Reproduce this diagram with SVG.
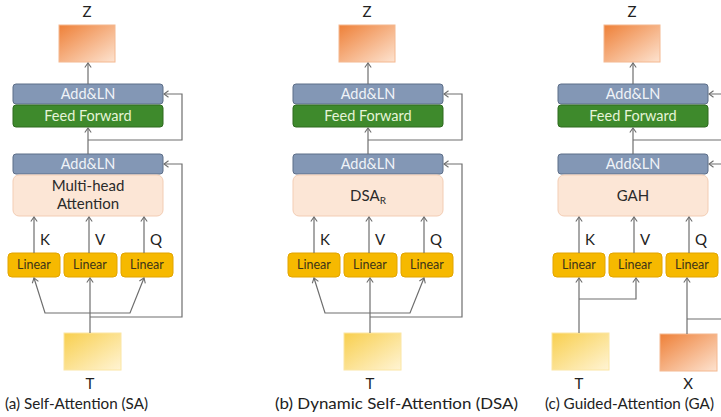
<svg xmlns="http://www.w3.org/2000/svg" width="721" height="417" viewBox="0 0 721 417">
  <defs>
    <linearGradient id="gOrange" x1="0" y1="0" x2="1" y2="1">
      <stop offset="0" stop-color="#ee8038"/>
      <stop offset="1" stop-color="#fde3d0"/>
    </linearGradient>
    <linearGradient id="gYellow" x1="0" y1="0" x2="1" y2="1">
      <stop offset="0" stop-color="#f8cf4e"/>
      <stop offset="1" stop-color="#fff4d4"/>
    </linearGradient>
    <marker id="arr" markerWidth="10" markerHeight="10" refX="0" refY="0" viewBox="-6 -5 8 10" orient="auto" markerUnits="userSpaceOnUse">
      <path d="M-4.5,-3.2 L0,0 L-4.5,3.2" fill="none" stroke="#6e6e6e" stroke-width="1.1"/>
    </marker>
    <style>
      text { font-family: Lato, "Open Sans", "Liberation Sans", sans-serif; }
      .lbl { font-size: 15px; fill: #222; text-anchor: middle; }
      .cap { font-size: 15px; fill: #222; }
      .outbox { fill: url(#gOrange); stroke: #f4b890; stroke-width: 1; }
      .inbox { fill: url(#gYellow); stroke: #fbe6a4; stroke-width: 1; }
      .addln rect { fill: #8397b5; stroke: #5d6e88; stroke-width: 1; }
      .addln text { font-size: 14.5px; fill: #f0f3f8; text-anchor: middle; }
      .ff rect { fill: #3e8a2c; stroke: #2e6a1f; stroke-width: 1; }
      .ff text { font-size: 14.5px; fill: #e6f4d8; text-anchor: middle; }
      .att rect { fill: #fce6d6; stroke: #f3cdb4; stroke-width: 1; }
      .att text { font-size: 15px; fill: #2a2a2a; text-anchor: middle; }
      .lin rect { fill: #f6b900; stroke: #e2a400; stroke-width: 1; }
      .lin text { font-size: 12.5px; fill: #3d3418; text-anchor: middle; }
      .kvq { font-size: 15px; fill: #222; }
      .conn path, .conn line { fill: none; stroke: #6e6e6e; stroke-width: 1.2; }
      .ah { marker-end: url(#arr); }
    </style>
  </defs>

  <!-- (a) Self-Attention -->
  <g id="panel-sa">
    <g id="sa-z"><text class="lbl" x="87" y="17">Z</text><rect class="outbox" x="59" y="25" width="56" height="37"/></g>
    <g id="sa-addln2" class="addln"><rect x="13" y="84" width="150" height="20" rx="3"/><text x="88" y="99">Add&amp;LN</text></g>
    <g id="sa-ff" class="ff"><rect x="13" y="105" width="150" height="22" rx="3"/><text x="88" y="121">Feed Forward</text></g>
    <g id="sa-addln1" class="addln"><rect x="13" y="154" width="150" height="20" rx="3"/><text x="88" y="169">Add&amp;LN</text></g>
    <g id="sa-att" class="att"><rect x="13" y="175" width="150" height="41" rx="6"/><text x="88" y="191">Multi-head</text><text x="88" y="209">Attention</text></g>
    <g id="sa-lin-k" class="lin"><rect x="8" y="253" width="52" height="24" rx="4"/><text x="34" y="269">Linear</text></g>
    <g id="sa-lin-v" class="lin"><rect x="64" y="253" width="53" height="24" rx="4"/><text x="90" y="269">Linear</text></g>
    <g id="sa-lin-q" class="lin"><rect x="121" y="253" width="52" height="24" rx="4"/><text x="147" y="269">Linear</text></g>
    <g id="sa-t"><rect class="inbox" x="64" y="333" width="57" height="37"/><text class="lbl" x="90" y="389">T</text></g>
    <g id="sa-kvq-labels"><text class="kvq" x="40" y="245">K</text><text class="kvq" x="95" y="245">V</text><text class="kvq" x="150" y="245">Q</text></g>
    <g id="sa-connectors" class="conn">
      <line class="ah" x1="88" y1="84" x2="88" y2="63"/>
      <line class="ah" x1="88" y1="154" x2="88" y2="128"/>
      <path class="ah" d="M88,140 H182 V94 H164"/>
      <path class="ah" d="M90,317 H182 V164 H164"/>
      <line class="ah" x1="34" y1="253" x2="34" y2="217"/>
      <line class="ah" x1="89" y1="253" x2="89" y2="217"/>
      <line class="ah" x1="144" y1="253" x2="144" y2="217"/>
      <line class="ah" x1="90" y1="333" x2="90" y2="278"/>
      <path class="ah" d="M90,313 H45 L34,278"/>
      <path class="ah" d="M90,313 H130 L144,278"/>
    </g>
    <text class="cap" x="5" y="409" textLength="143" lengthAdjust="spacingAndGlyphs">(a) Self-Attention (SA)</text>
  </g>

  <!-- (b) Dynamic Self-Attention -->
  <g id="panel-dsa" transform="translate(280,0)">
    <g id="dsa-z"><text class="lbl" x="87" y="17">Z</text><rect class="outbox" x="59" y="25" width="56" height="37"/></g>
    <g id="dsa-addln2" class="addln"><rect x="13" y="84" width="150" height="20" rx="3"/><text x="88" y="99">Add&amp;LN</text></g>
    <g id="dsa-ff" class="ff"><rect x="13" y="105" width="150" height="22" rx="3"/><text x="88" y="121">Feed Forward</text></g>
    <g id="dsa-addln1" class="addln"><rect x="13" y="154" width="150" height="20" rx="3"/><text x="88" y="169">Add&amp;LN</text></g>
    <g id="dsa-att" class="att"><rect x="13" y="175" width="150" height="41" rx="6"/><text x="88" y="201">DSA<tspan font-size="10" dy="3">R</tspan></text></g>
    <g id="dsa-lin-k" class="lin"><rect x="8" y="253" width="52" height="24" rx="4"/><text x="34" y="269">Linear</text></g>
    <g id="dsa-lin-v" class="lin"><rect x="64" y="253" width="53" height="24" rx="4"/><text x="90" y="269">Linear</text></g>
    <g id="dsa-lin-q" class="lin"><rect x="121" y="253" width="52" height="24" rx="4"/><text x="147" y="269">Linear</text></g>
    <g id="dsa-t"><rect class="inbox" x="64" y="333" width="57" height="37"/><text class="lbl" x="90" y="389">T</text></g>
    <g id="dsa-kvq-labels"><text class="kvq" x="40" y="245">K</text><text class="kvq" x="95" y="245">V</text><text class="kvq" x="150" y="245">Q</text></g>
    <g id="dsa-connectors" class="conn">
      <line class="ah" x1="88" y1="84" x2="88" y2="63"/>
      <line class="ah" x1="88" y1="154" x2="88" y2="128"/>
      <path class="ah" d="M88,140 H182 V94 H164"/>
      <path class="ah" d="M90,317 H182 V164 H164"/>
      <line class="ah" x1="34" y1="253" x2="34" y2="217"/>
      <line class="ah" x1="89" y1="253" x2="89" y2="217"/>
      <line class="ah" x1="144" y1="253" x2="144" y2="217"/>
      <line class="ah" x1="90" y1="333" x2="90" y2="278"/>
      <path class="ah" d="M90,313 H45 L34,278"/>
      <path class="ah" d="M90,313 H130 L144,278"/>
    </g>
    <text class="cap" x="-5" y="409" textLength="243" lengthAdjust="spacingAndGlyphs">(b) Dynamic Self-Attention (DSA)</text>
  </g>

  <!-- (c) Guided-Attention -->
  <g id="panel-ga" transform="translate(545,0)">
    <g id="ga-z"><text class="lbl" x="87" y="17">Z</text><rect class="outbox" x="59" y="25" width="56" height="37"/></g>
    <g id="ga-addln2" class="addln"><rect x="13" y="84" width="150" height="20" rx="3"/><text x="88" y="99">Add&amp;LN</text></g>
    <g id="ga-ff" class="ff"><rect x="13" y="105" width="150" height="22" rx="3"/><text x="88" y="121">Feed Forward</text></g>
    <g id="ga-addln1" class="addln"><rect x="13" y="154" width="150" height="20" rx="3"/><text x="88" y="169">Add&amp;LN</text></g>
    <g id="ga-att" class="att"><rect x="13" y="175" width="150" height="41" rx="6"/><text x="88" y="201">GAH</text></g>
    <g id="ga-lin-k" class="lin"><rect x="8" y="253" width="52" height="24" rx="4"/><text x="34" y="269">Linear</text></g>
    <g id="ga-lin-v" class="lin"><rect x="64" y="253" width="53" height="24" rx="4"/><text x="90" y="269">Linear</text></g>
    <g id="ga-lin-q" class="lin"><rect x="121" y="253" width="52" height="24" rx="4"/><text x="147" y="269">Linear</text></g>
    <g id="ga-t"><rect class="inbox" x="7" y="333" width="57" height="37"/><text class="lbl" x="34" y="389">T</text></g>
    <g id="ga-x"><rect class="outbox" x="115" y="334" width="57" height="37"/><text class="lbl" x="143" y="389">X</text></g>
    <g id="ga-kvq-labels"><text class="kvq" x="40" y="245">K</text><text class="kvq" x="95" y="245">V</text><text class="kvq" x="150" y="245">Q</text></g>
    <g id="ga-connectors" class="conn">
      <line class="ah" x1="88" y1="84" x2="88" y2="63"/>
      <line class="ah" x1="88" y1="154" x2="88" y2="128"/>
      <path class="ah" d="M88,140 H182 V94 H164"/>
      <path class="ah" d="M142,319 H182 V164 H164"/>
      <line class="ah" x1="34" y1="253" x2="34" y2="217"/>
      <line class="ah" x1="89" y1="253" x2="89" y2="217"/>
      <line class="ah" x1="144" y1="253" x2="144" y2="217"/>
      <line class="ah" x1="34" y1="333" x2="34" y2="278"/>
      <path class="ah" d="M34,299 H91 V278"/>
      <line class="ah" x1="142" y1="334" x2="142" y2="278"/>
    </g>
    <text class="cap" x="0" y="409" textLength="169" lengthAdjust="spacingAndGlyphs">(c) Guided-Attention (GA)</text>
  </g>
</svg>
